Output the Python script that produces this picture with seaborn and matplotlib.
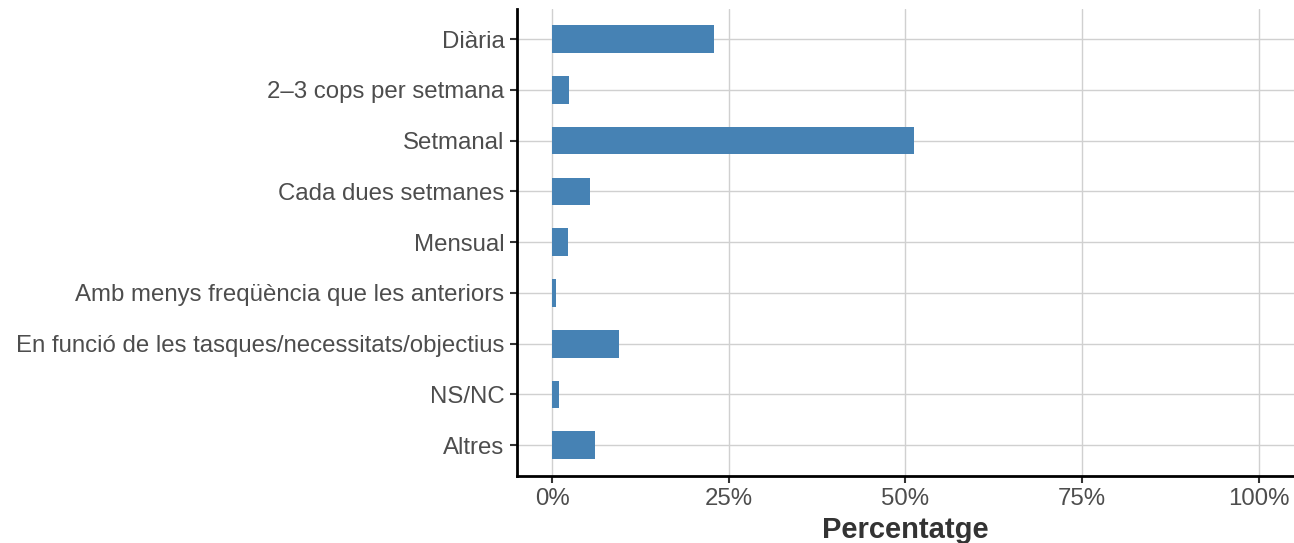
import pandas as pd
import seaborn as sns
import matplotlib.pyplot as plt
from matplotlib.ticker import FuncFormatter

# Data
categories = ['Diària', '2\u20133 cops per setmana', 'Setmanal', 'Cada dues setmanes',
              'Mensual', 'Amb menys freqüència que les anteriors',
              'En funció de les tasques/necessitats/objectius', 'NS/NC', 'Altres']
percentages = [22.9, 2.4, 51.2, 5.3, 2.2, 0.5, 9.5, 0.9, 6.0]
x_ticks = [0, 25, 50, 75, 100]

df = pd.DataFrame({'Freq': categories, 'Pct': percentages})

sns.set_theme(style='whitegrid')
plt.rcParams['font.family'] = ['Liberation Sans', 'DejaVu Sans']

fig = plt.figure(figsize=(12.94, 5.43), dpi=100)
ax = fig.add_axes([0.3995, 0.124, 0.6005, 0.860])

sns.barplot(data=df, y='Freq', x='Pct', orient='h', color='#4682B4',
            saturation=1, width=0.545, linewidth=0, ax=ax)

ax.set_xlim(-5, 105)
ax.set_ylim(len(categories) - 0.4, -0.6)
ax.set_xticks(x_ticks)
ax.xaxis.set_major_formatter(FuncFormatter(lambda v, p: f'{v:.0f}%'))

ax.grid(True, color='#d0d0d0', linewidth=1.0)
ax.set_axisbelow(True)
for s in ['top', 'right']:
    ax.spines[s].set_visible(False)
for s in ['left', 'bottom']:
    ax.spines[s].set_visible(True)
    ax.spines[s].set_color('black')
    ax.spines[s].set_linewidth(2)

ax.tick_params(axis='both', which='major', length=5, width=1.5, color='#333333',
               labelsize=17.3, labelcolor='#4d4d4d', pad=4, left=True, bottom=True)
ax.set_ylabel('')
ax.set_xlabel('Percentatge', fontsize=21, fontweight='bold', color='#333333', labelpad=4)

fig.savefig('out.png', dpi=100)
